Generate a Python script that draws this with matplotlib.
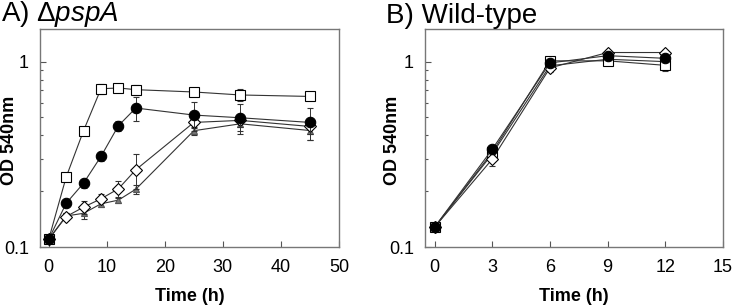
import numpy as np
import matplotlib.pyplot as plt
from matplotlib.ticker import LogLocator, NullFormatter, FixedLocator

plt.rcParams['font.family'] = ['Liberation Sans', 'DejaVu Sans']
plt.rcParams['mathtext.fontset'] = 'custom'
plt.rcParams['mathtext.rm'] = 'Liberation Sans'
plt.rcParams['mathtext.it'] = 'Liberation Sans:italic'

# Panel A: delta pspA
t_a = [0, 3, 6, 9, 12, 15, 25, 33, 45]
sq_a = [0.110, 0.238, 0.424, 0.714, 0.721, 0.706, 0.686, 0.661, 0.649]
sq_a_err = [0.004, 0.008, 0.02, 0.045, 0.02, 0.045, 0.035, 0.05, 0.03]
ci_a = [0.110, 0.172, 0.221, 0.308, 0.451, 0.562, 0.515, 0.498, 0.470]
ci_a_err = [0.004, 0.006, 0.012, 0.018, 0.03, 0.085, 0.09, 0.09, 0.09]
di_a = [0.110, 0.146, 0.164, 0.182, 0.206, 0.261, 0.470, 0.482, 0.447]
di_a_err = [0.004, 0.006, 0.014, 0.01, 0.022, 0.055, 0.03, 0.04, 0.04]
tr_a = [0.110, 0.147, 0.152, 0.171, 0.179, 0.205, 0.424, 0.462, 0.425]
tr_a_err = [0.004, 0.006, 0.01, 0.006, 0.006, 0.012, 0.02, 0.04, 0.045]

# Panel B: wild-type
t_b = [0, 3, 6, 9, 12]
sq_b = [0.128, 0.325, 1.01, 1.01, 0.955]
sq_b_err = [0.003, 0.01, 0.05, 0.04, 0.07]
ci_b = [0.128, 0.337, 0.984, 1.077, 1.042]
ci_b_err = [0.003, 0.01, 0.03, 0.03, 0.03]
di_b = [0.128, 0.298, 0.925, 1.12, 1.12]
di_b_err = [0.003, 0.025, 0.05, 0.03, 0.03]
tr_b = [0.128, 0.318, 0.950, 1.03, 1.00]
tr_b_err = [0.003, 0.01, 0.04, 0.03, 0.03]

fig = plt.figure(figsize=(7.33, 3.05), dpi=100)
W, H = 733, 305
ax_a = fig.add_axes([40 / W, 1 - 247 / H, 299 / W, 218 / H])
ax_b = fig.add_axes([425 / W, 1 - 247 / H, 298 / W, 218 / H])


def draw(ax, t, series):
    for y, err, mk, fc, ms, z in series:
        edge = '#555555' if fc == '#777777' else 'black'
        ax.errorbar(t, y, yerr=err, marker=mk, mfc=fc, mec=edge,
                    ms=ms, color='#333333', lw=0.8, ecolor='#333333', elinewidth=0.7,
                    capsize=2.5, capthick=0.7, mew=0.8, zorder=z)


def style(ax, xlim, xticks, title, ylab_x):
    ax.set_yscale('log')
    ax.set_ylim(0.1, 1.5)
    ax.set_xlim(*xlim)
    ax.xaxis.set_major_locator(FixedLocator(xticks))
    ax.yaxis.set_major_locator(FixedLocator([0.1, 1]))
    ax.yaxis.set_minor_locator(LogLocator(base=10, subs=np.arange(2, 10)))
    ax.yaxis.set_minor_formatter(NullFormatter())
    ax.set_yticklabels(['0.1', '1'])
    ax.tick_params(axis='both', which='both', direction='in', colors='#555555',
                   labelcolor='black', labelsize=13, width=0.8)
    ax.tick_params(axis='y', which='major', length=4, pad=8)
    ax.tick_params(axis='y', which='minor', length=2.5)
    ax.tick_params(axis='x', which='major', length=4, pad=9)
    for s in ax.spines.values():
        s.set_color('#777777')
        s.set_linewidth(1)
    ax.set_xlabel('Time (h)', fontsize=13, fontweight='bold', labelpad=8)
    ax.set_ylabel('OD 540nm', fontsize=13, fontweight='bold')
    # anchor is the right edge of the rotated label
    ax.yaxis.set_label_coords(ylab_x, 0.49)
    ax.set_title(title, loc='left', fontsize=20, x=-0.13, pad=4)


draw(ax_a, t_a, [
    (tr_a, tr_a_err, '^', '#777777', 5, 2),
    (di_a, di_a_err, 'D', 'white', 6, 3),
    (sq_a, sq_a_err, 's', 'white', 7, 3),
    (ci_a, ci_a_err, 'o', 'black', 7.5, 4),
])
draw(ax_b, t_b, [
    (tr_b, tr_b_err, '^', '#777777', 5, 2),
    (sq_b, sq_b_err, 's', 'white', 7, 3),
    (di_b, di_b_err, 'D', 'white', 6, 3),
    (ci_b, ci_b_err, 'o', 'black', 7.5, 4),
])

style(ax_a, (-1.5, 50), [0, 10, 20, 30, 40, 50], r'A) $\mathrm{\Delta}\mathit{pspA}$', -0.072)
style(ax_b, (-0.5, 15), [0, 3, 6, 9, 12, 15], 'B) Wild-type', -0.082)

fig.savefig('out.png', dpi=100)
